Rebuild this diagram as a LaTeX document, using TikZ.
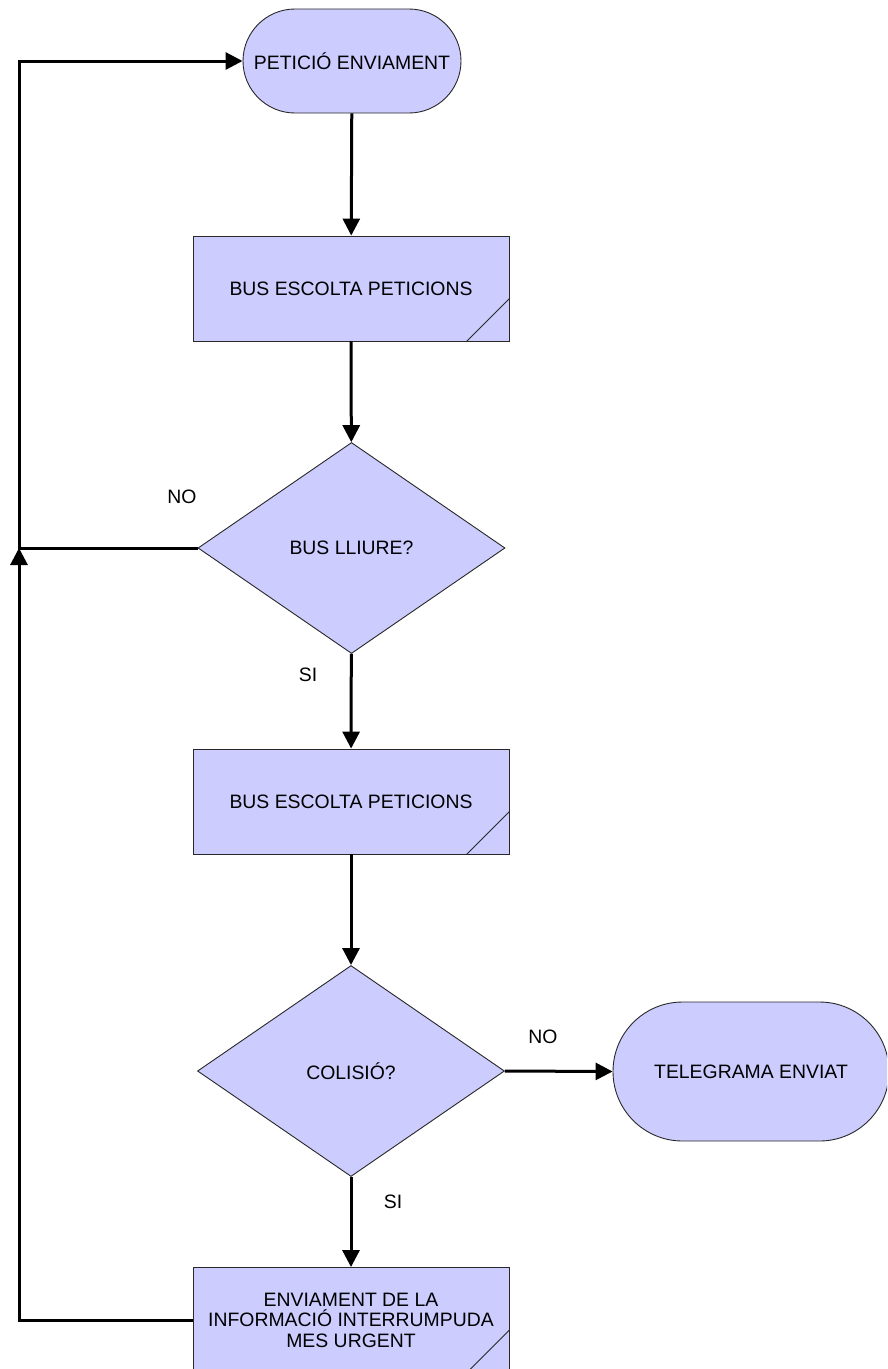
\documentclass[tikz,border=0pt]{standalone}
\usepackage{fontspec}
\setmainfont{Liberation Sans}
\usetikzlibrary{arrows.meta,shapes.geometric}
\definecolor{boxfill}{RGB}{204,204,255}
\definecolor{boxline}{RGB}{40,40,40}
\tikzset{
  every node/.style={font=\fontsize{19.4}{22.5}\selectfont, text=black},
  terminal/.style={draw=boxline, fill=boxfill, line width=0.9pt, rectangle, inner sep=0pt},
  procbox/.style={draw=boxline, fill=boxfill, line width=0.9pt, rectangle, inner sep=0pt,
    minimum width=316pt, minimum height=105pt, align=center},
  decision/.style={draw=boxline, fill=boxfill, line width=0.9pt, diamond, inner sep=0pt,
    minimum width=307pt, minimum height=211pt, aspect=1.455},
  conn/.style={line width=3pt, line join=miter, -{Triangle[length=17pt,width=17pt]}},
  corner/.style={draw=boxline, line width=0.9pt},
  lbl/.style={inner sep=0pt}
}
\begin{document}
\begin{tikzpicture}[x=1pt,y=-1pt]
\useasboundingbox (0,0) rectangle (887,1369);
\clip (0,0) rectangle (887,1369);
\fill[white] (0,0) rectangle (887,1369);

\node[terminal, minimum width=218pt, minimum height=104pt, rounded corners=52pt] (t1) at (352,61) {PETICIÓ ENVIAMENT};
\node[procbox] (r1) at (351,288.5) {BUS ESCOLTA PETICIONS};
\node[decision] (d1) at (351.5,548) {BUS LLIURE?};
\node[procbox] (r2) at (351,801.5) {BUS ESCOLTA PETICIONS};
\node[decision] (d2) at (351,1071) {COLISIÓ?};
\node[terminal, minimum width=276pt, minimum height=139pt, rounded corners=69.5pt] (t2) at (751,1071.5) {TELEGRAMA ENVIAT};
\node[procbox] (r3) at (351,1320) {ENVIAMENT DE LA\\[-2pt]INFORMACIÓ INTERRUMPUDA\\[-2pt]MES URGENT};

\foreach \r in {r1,r2,r3}{
  \draw[corner] ([yshift=43pt]\r.south east) -- ([xshift=-43pt]\r.south east);
}

\coordinate (j1) at (19,548);

\draw[conn] (t1) -- (r1);
\draw[conn] (r1) -- (d1);
\draw[conn] (d1) -- (r2);
\draw[conn] (r2) -- (d2);
\draw[conn] (d2) -- (r3);
\draw[conn] (d2.east) -- (t2.west);
\draw[conn] (r3.west) -| (j1);
\draw[conn] (d1.west) -- (j1) |- (t1.west);

\node[lbl] (no1) at (182,497) {NO};
\node[lbl] (si1) at (308,675) {SI};
\node[lbl] (no2) at (543,1037) {NO};
\node[lbl] (si2) at (393,1202) {SI};
\end{tikzpicture}
\end{document}
